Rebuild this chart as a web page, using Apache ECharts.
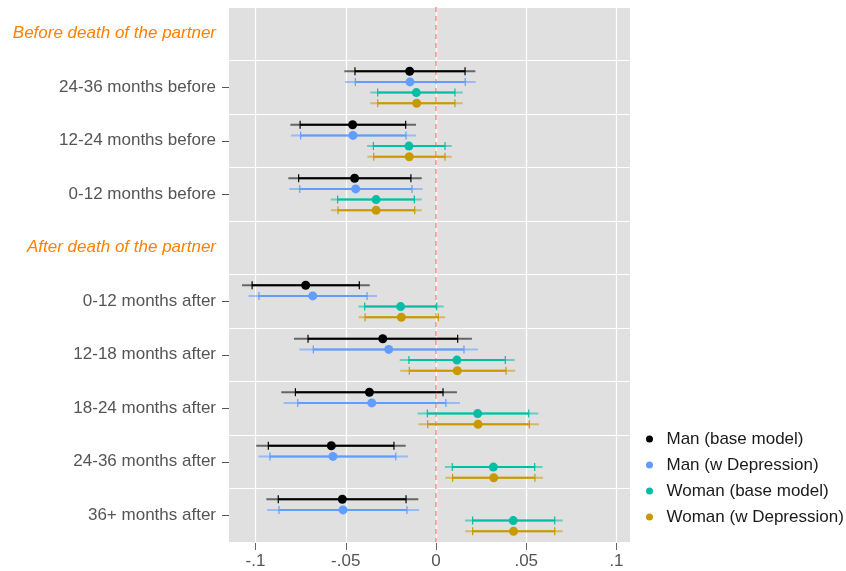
<!DOCTYPE html>
<html>
<head>
<meta charset="utf-8">
<script src="https://cdn.jsdelivr.net/npm/echarts@6/dist/echarts.min.js"></script>
<style>
  html, body { margin: 0; padding: 0; background: #fff; }
  #main { width: 846px; height: 571px; }
</style>
</head>
<body>
<div id="main"></div>
<script>
// rows, top to bottom; rows 0 and 4 are group headers
const categories = [
  'Before death of the partner',
  '24-36 months before',
  '12-24 months before',
  '0-12 months before',
  'After death of the partner',
  '0-12 months after',
  '12-18 months after',
  '18-24 months after',
  '24-36 months after',
  '36+ months after'
];
const headerRows = [0, 4];
const dataRows = [1, 2, 3, 5, 6, 7, 8, 9];
const xTicks = [-0.1, -0.05, 0, 0.05, 0.1];

// each entry: [estimate, inner low, inner high, outer low, outer high]
const manBase = [
  [-0.0146, -0.0449, 0.0161, -0.0508, 0.0218],
  [-0.0462, -0.0753, -0.0168, -0.0807, -0.0111],
  [-0.0451, -0.0761, -0.0139, -0.0818, -0.0079],
  [-0.0722, -0.1019, -0.0425, -0.1075, -0.0367],
  [-0.0295, -0.0709, 0.0120, -0.0787, 0.0199],
  [-0.0369, -0.0779, 0.0039, -0.0857, 0.0116],
  [-0.0580, -0.0929, -0.0233, -0.0996, -0.0168],
  [-0.0519, -0.0874, -0.0166, -0.0940, -0.0098]
];
const manDep = [
  [-0.0144, -0.0447, 0.0162, -0.0504, 0.0220],
  [-0.0460, -0.0750, -0.0166, -0.0803, -0.0111],
  [-0.0445, -0.0755, -0.0133, -0.0813, -0.0074],
  [-0.0683, -0.0981, -0.0382, -0.1040, -0.0327],
  [-0.0262, -0.0680, 0.0155, -0.0757, 0.0233],
  [-0.0356, -0.0766, 0.0055, -0.0844, 0.0133],
  [-0.0571, -0.0920, -0.0223, -0.0984, -0.0155],
  [-0.0515, -0.0870, -0.0161, -0.0935, -0.0094]
];
const womanBase = [
  [-0.0109, -0.0323, 0.0105, -0.0364, 0.0148],
  [-0.0150, -0.0347, 0.0050, -0.0382, 0.0087],
  [-0.0332, -0.0545, -0.0120, -0.0583, -0.0079],
  [-0.0196, -0.0395, 0.0004, -0.0430, 0.0043],
  [0.0116, -0.0150, 0.0384, -0.0201, 0.0436],
  [0.0231, -0.0048, 0.0514, -0.0102, 0.0567],
  [0.0318, 0.0090, 0.0547, 0.0050, 0.0591],
  [0.0428, 0.0203, 0.0658, 0.0161, 0.0702]
];
const womanDep = [
  [-0.0107, -0.0323, 0.0105, -0.0364, 0.0148],
  [-0.0148, -0.0345, 0.0050, -0.0380, 0.0087],
  [-0.0332, -0.0543, -0.0118, -0.0582, -0.0079],
  [-0.0192, -0.0393, 0.0013, -0.0428, 0.0050],
  [0.0118, -0.0148, 0.0388, -0.0198, 0.0439],
  [0.0233, -0.0046, 0.0517, -0.0098, 0.0571],
  [0.0320, 0.0092, 0.0548, 0.0052, 0.0593],
  [0.0430, 0.0203, 0.0658, 0.0162, 0.0702]
];

const groups = [
  { name: 'Man (base model)', color: '#000000', values: manBase },
  { name: 'Man (w Depression)', color: '#619CFF', values: manDep },
  { name: 'Woman (base model)', color: '#00BFA4', values: womanBase },
  { name: 'Woman (w Depression)', color: '#C99A00', values: womanDep }
];

const font = 'Liberation Sans, Arial, sans-serif';
const xMin = -0.1147, xMax = 0.1075;

function makeRender(slot, color) {
  return function (params, api) {
    const row = api.value(0);
    const band = api.size([0, 1])[1];
    const y = api.coord([api.value(1), row])[1] + (slot - 1.5) * band / 5;
    const px = v => api.coord([v, row])[0];
    const xP = px(api.value(1)), xIL = px(api.value(2)), xIH = px(api.value(3));
    const xOL = px(api.value(4)), xOH = px(api.value(5));
    return {
      type: 'group',
      children: [
        { type: 'line', shape: { x1: xOL, y1: y, x2: xOH, y2: y }, style: { stroke: color, lineWidth: 2, opacity: 0.55 } },
        { type: 'line', shape: { x1: xIL, y1: y, x2: xIH, y2: y }, style: { stroke: color, lineWidth: 2 } },
        { type: 'line', shape: { x1: xIL, y1: y - 4, x2: xIL, y2: y + 4 }, style: { stroke: color, lineWidth: 1.2 } },
        { type: 'line', shape: { x1: xIH, y1: y - 4, x2: xIH, y2: y + 4 }, style: { stroke: color, lineWidth: 1.2 } },
        { type: 'circle', shape: { cx: xP, cy: y, r: 4.5 }, style: { fill: color } }
      ]
    };
  };
}

const series = groups.map((g, i) => {
  const s = {
    name: g.name,
    type: 'custom',
    itemStyle: { color: g.color },
    renderItem: makeRender(i, g.color),
    encode: { x: [1, 2, 3, 4, 5], y: 0 },
    data: dataRows.map((r, k) => [r].concat(g.values[k])),
    z: 3
  };
  if (i === 0) {
    s.markLine = {
      silent: true,
      symbol: 'none',
      label: { show: false },
      lineStyle: { color: '#F8766D', type: [5, 4], width: 2, opacity: 0.6 },
      data: [{ xAxis: 0 }],
      z: 2
    };
  }
  return s;
});

const yData = categories.map((c, i) => headerRows.indexOf(i) >= 0
  ? { value: c, textStyle: { color: '#FF8000', fontStyle: 'italic' } }
  : c);

const chart = echarts.init(document.getElementById('main'));
chart.setOption({
  animation: false,
  textStyle: { fontFamily: font },
  grid: [
    { left: 229, right: 216, top: 7, bottom: 29, show: true, backgroundColor: '#E0E0E0', borderWidth: 0 },
    // thin strip under the panel that carries the x tick marks
    { left: 229, right: 216, top: 543, height: 7, show: false }
  ],
  legend: {
    orient: 'vertical',
    left: 641,
    top: 425,
    itemWidth: 24,
    itemHeight: 7,
    itemGap: 8,
    textStyle: { fontSize: 17, color: '#1a1a1a', lineHeight: 18, fontFamily: font },
    data: groups.map(g => ({ name: g.name, icon: 'circle' }))
  },
  xAxis: [
    {
      type: 'value',
      gridIndex: 0,
      position: 'bottom',
      min: xMin,
      max: xMax,
      axisLine: { show: false, onZero: false },
      axisTick: { show: false, customValues: xTicks },
      axisLabel: {
        customValues: xTicks,
        fontSize: 17, color: '#555', margin: 11, fontFamily: font,
        formatter: v => v === 0 ? '0' : String(v).replace('0.', '.')
      },
      splitLine: { show: true, lineStyle: { color: '#fff', width: 1.2 } }
    },
    {
      type: 'value',
      gridIndex: 1,
      min: xMin,
      max: xMax,
      axisLine: { show: false, onZero: false },
      axisTick: { show: false, customValues: xTicks },
      axisLabel: { show: false, customValues: xTicks },
      splitLine: { show: true, lineStyle: { color: '#666', width: 1 } }
    }
  ],
  yAxis: [
    {
      type: 'category',
      gridIndex: 0,
      position: 'left',
      inverse: true,
      data: yData,
      axisLine: { show: false, onZero: false },
      axisTick: {
        show: true, length: 7, alignWithLabel: true,
        interval: idx => headerRows.indexOf(idx) < 0,
        lineStyle: { color: '#555' }
      },
      axisLabel: { interval: 0, fontSize: 17, color: '#555', margin: 13, fontFamily: font },
      splitLine: { show: true, interval: 0, lineStyle: { color: '#fff', width: 1.2 } }
    },
    {
      type: 'value',
      gridIndex: 1,
      min: 0,
      max: 1,
      show: false
    }
  ],
  series: series
});
</script>
</body>
</html>
